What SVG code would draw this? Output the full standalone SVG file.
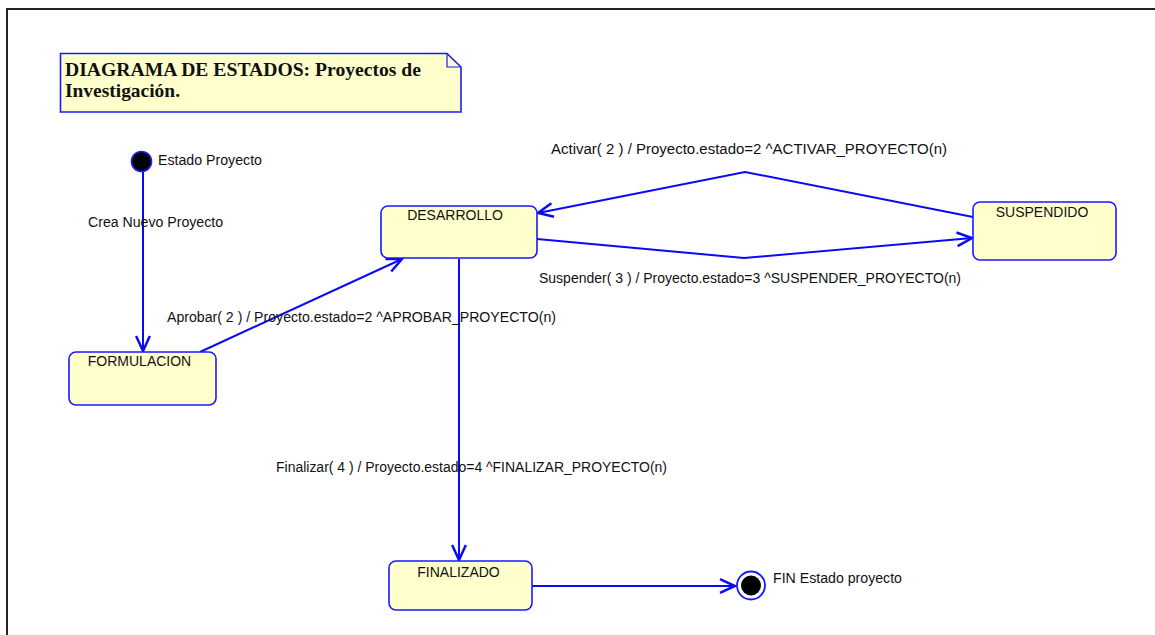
<svg xmlns="http://www.w3.org/2000/svg" width="1155" height="635" viewBox="0 0 1155 635">
<style>
.state{fill:#FFFFCC;stroke:#1A1AFF;stroke-width:1.6}
.lbl{font-family:"Liberation Sans",Arial,sans-serif;font-size:14px;fill:#111}
.edge{fill:none;stroke:#0A0AF5;stroke-width:2}
.title{font-family:"Liberation Serif","Times New Roman",serif;font-size:19px;font-weight:bold;fill:#111}
</style>
<defs>
<marker id="open" markerUnits="userSpaceOnUse" markerWidth="20" markerHeight="20" viewBox="-14 -8 16 16" refX="0" refY="0" orient="auto">
<path d="M -12 -5.5 L 0 0 L -12 5.5" fill="none" stroke="#0A0AF5" stroke-width="2"/>
</marker>
</defs>
<rect width="1155" height="635" fill="#fff"/>
<polyline points="7,635 7,9 1155,9" fill="none" stroke="#222" stroke-width="2"/>

<g id="note">
<path d="M60.5,53.5 H447 L461,67 V112 H60.5 Z" fill="#FFFFCC" stroke="#1A1AFF" stroke-width="1.6"/>
<path d="M447,53.5 V67 H461" fill="none" stroke="#1A1AFF" stroke-width="1.2"/>
<text class="title" x="65" y="76" textLength="356" lengthAdjust="spacingAndGlyphs">DIAGRAMA DE ESTADOS: Proyectos de</text>
<text class="title" x="65" y="97" textLength="115" lengthAdjust="spacingAndGlyphs">Investigación.</text>
</g>

<g id="connectors">
<line class="edge" x1="143" y1="172" x2="143" y2="351" marker-end="url(#open)"/>
<line class="edge" x1="200" y1="352" x2="402" y2="259" marker-end="url(#open)"/>
<polyline class="edge" points="973,217 745,172 538,213" marker-end="url(#open)"/>
<polyline class="edge" points="537,239 744,258 972,238" marker-end="url(#open)"/>
<line class="edge" x1="459" y1="259" x2="459" y2="560" marker-end="url(#open)"/>
<line class="edge" x1="532" y1="586" x2="735" y2="586" marker-end="url(#open)"/>
<text class="lbl" x="88" y="227" textLength="135" lengthAdjust="spacingAndGlyphs">Crea Nuevo Proyecto</text>
<text class="lbl" x="167" y="322" textLength="389" lengthAdjust="spacingAndGlyphs">Aprobar( 2 ) / Proyecto.estado=2 ^APROBAR_PROYECTO(n)</text>
<text class="lbl" x="551" y="154" textLength="396" lengthAdjust="spacingAndGlyphs">Activar( 2 ) / Proyecto.estado=2 ^ACTIVAR_PROYECTO(n)</text>
<text class="lbl" x="539" y="283" textLength="422" lengthAdjust="spacingAndGlyphs">Suspender( 3 ) / Proyecto.estado=3 ^SUSPENDER_PROYECTO(n)</text>
<text class="lbl" x="276" y="472" textLength="391" lengthAdjust="spacingAndGlyphs">Finalizar( 4 ) / Proyecto.estado=4 ^FINALIZAR_PROYECTO(n)</text>
</g>

<g id="initial">
<circle cx="141.5" cy="161.5" r="10" fill="#000" stroke="#1A1AFF" stroke-width="1.6"/>
<text class="lbl" x="158" y="165" textLength="104" lengthAdjust="spacingAndGlyphs">Estado Proyecto</text>
</g>

<g id="formulacion">
<rect class="state" x="69" y="352" width="147" height="53" rx="7"/>
<text class="lbl" x="139.5" y="366" text-anchor="middle">FORMULACION</text>
</g>

<g id="desarrollo">
<rect class="state" x="381" y="206" width="156" height="52" rx="7"/>
<text class="lbl" x="455" y="220" text-anchor="middle">DESARROLLO</text>
</g>

<g id="suspendido">
<rect class="state" x="973" y="202" width="143" height="58" rx="7"/>
<text class="lbl" x="1042" y="217" text-anchor="middle">SUSPENDIDO</text>
</g>

<g id="finalizado">
<rect class="state" x="389" y="561" width="143" height="49" rx="7"/>
<text class="lbl" x="458.5" y="577" text-anchor="middle">FINALIZADO</text>
</g>

<g id="final">
<circle cx="751" cy="585.5" r="14" fill="#fff" stroke="#1A1AFF" stroke-width="1.8"/>
<circle cx="751" cy="585.5" r="10" fill="#000"/>
<text class="lbl" x="773" y="583" textLength="129" lengthAdjust="spacingAndGlyphs">FIN Estado proyecto</text>
</g>
</svg>
